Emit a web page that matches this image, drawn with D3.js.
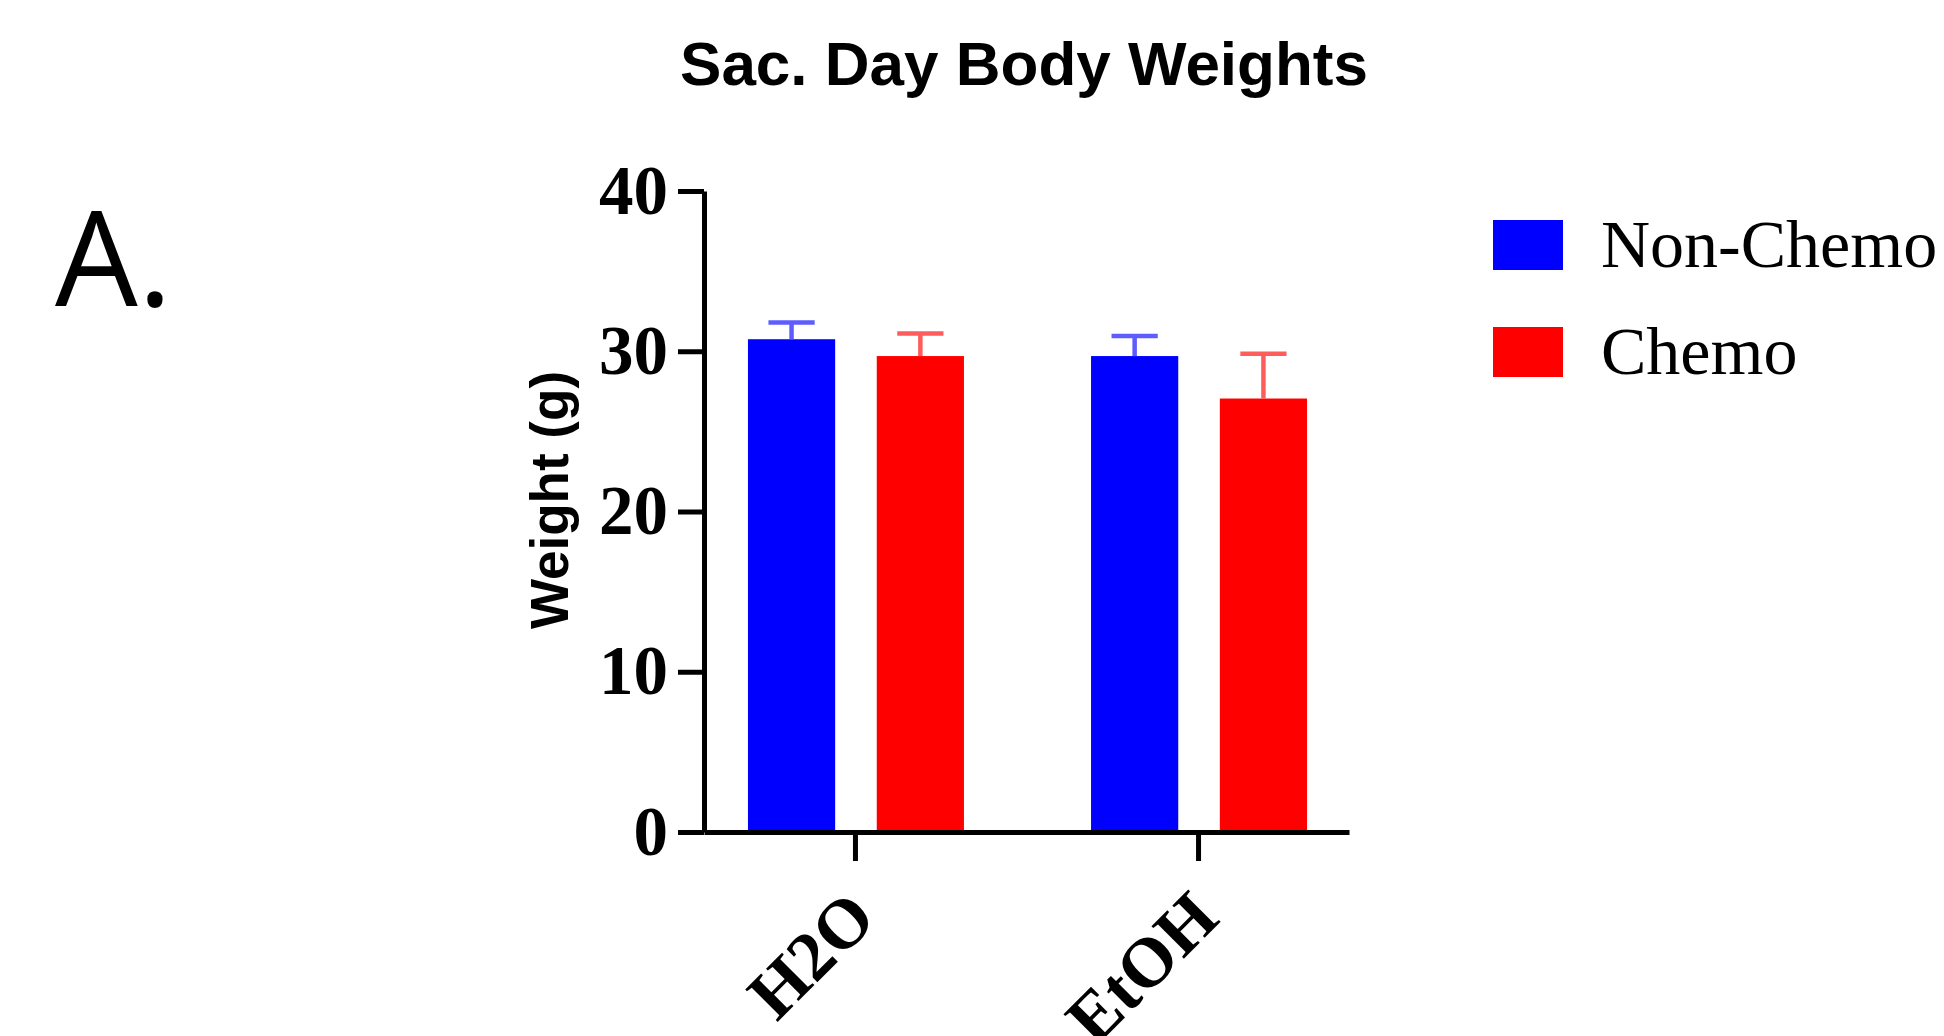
<!DOCTYPE html>
<html>
<head>
<meta charset="utf-8">
<title>Sac. Day Body Weights</title>
<script src="https://cdn.jsdelivr.net/npm/d3@7"></script>
<style>
  html, body { margin: 0; padding: 0; background: #fff; }
  #chart { width: 1944px; height: 1036px; }
</style>
</head>
<body>
<div id="chart"></div>
<script>
// datos (media y error estandar, en gramos)
const groups = ["H2O", "EtOH"];
const series = ["Non-Chemo", "Chemo"];
const nonChemoMean = [30.75, 29.7];
const chemoMean    = [29.7, 27.05];
const nonChemoErr  = [1.05, 1.25];
const chemoErr     = [1.4, 2.8];
const yTicks = [0, 10, 20, 30, 40];

const colors    = { "Non-Chemo": "#0000ff", "Chemo": "#ff0000" };
const errColors = { "Non-Chemo": "#5c5cff", "Chemo": "#ff5c5c" };

// filas para dibujar
const rows = [];
groups.forEach((g, i) => {
  rows.push({ group: g, serie: "Non-Chemo", mean: nonChemoMean[i], err: nonChemoErr[i] });
  rows.push({ group: g, serie: "Chemo",     mean: chemoMean[i],    err: chemoErr[i] });
});

const width = 1944, height = 1036;
const plot = { left: 704, right: 1349, top: 191, bottom: 832 };

const svg = d3.select("#chart")
  .append("svg")
    .attr("width", width)
    .attr("height", height);

// escalas
const x0 = d3.scalePoint()
  .domain(groups)
  .range([plot.left, plot.right])
  .padding(0.44);

const x1 = d3.scaleBand()
  .domain(series)
  .range([-107, 109])
  .paddingInner(0.323)
  .paddingOuter(0);

const y = d3.scaleLinear()
  .domain([0, 40])
  .range([plot.bottom, plot.top]);

// barras
svg.append("g")
  .selectAll("rect")
  .data(rows)
  .join("rect")
    .attr("x", d => x0(d.group) + x1(d.serie))
    .attr("y", d => y(d.mean))
    .attr("width", x1.bandwidth())
    .attr("height", d => y(0) - y(d.mean))
    .attr("fill", d => colors[d.serie]);

// barras de error (solo hacia arriba)
const capW = x1.bandwidth() * 0.53;
const err = svg.append("g")
  .selectAll("g")
  .data(rows)
  .join("g")
    .attr("stroke", d => errColors[d.serie])
    .attr("stroke-width", 4.5);

err.append("line")
  .attr("x1", d => x0(d.group) + x1(d.serie) + x1.bandwidth() / 2)
  .attr("x2", d => x0(d.group) + x1(d.serie) + x1.bandwidth() / 2)
  .attr("y1", d => y(d.mean))
  .attr("y2", d => y(d.mean + d.err));

err.append("line")
  .attr("x1", d => x0(d.group) + x1(d.serie) + x1.bandwidth() / 2 - capW / 2)
  .attr("x2", d => x0(d.group) + x1(d.serie) + x1.bandwidth() / 2 + capW / 2)
  .attr("y1", d => y(d.mean + d.err))
  .attr("y2", d => y(d.mean + d.err));

// eje Y
const yAxis = svg.append("g")
  .attr("transform", `translate(${plot.left}, 0)`)
  .call(d3.axisLeft(y).tickValues(yTicks).tickSize(26).tickSizeOuter(0).tickPadding(10));

yAxis.select(".domain").attr("stroke", "#000").attr("stroke-width", 5);
yAxis.selectAll(".tick line").attr("stroke", "#000").attr("stroke-width", 5);
yAxis.selectAll(".tick text")
  .attr("font-family", "'Liberation Serif', 'Times New Roman', serif")
  .attr("font-weight", "bold")
  .attr("font-size", 69)
  .attr("fill", "#000");

// eje X
const xAxis = svg.append("g")
  .attr("transform", `translate(0, ${plot.bottom})`)
  .call(d3.axisBottom(x0).tickSize(29).tickSizeOuter(0));

xAxis.select(".domain").attr("stroke", "#000").attr("stroke-width", 5);
xAxis.selectAll(".tick line").attr("stroke", "#000").attr("stroke-width", 5);
xAxis.selectAll(".tick text")
  .attr("y", 0)
  .attr("dy", 0)
  .attr("text-anchor", "end")
  .attr("transform", "translate(23, 89) rotate(-45)")
  .attr("font-family", "'Liberation Serif', 'Times New Roman', serif")
  .attr("font-weight", "bold")
  .attr("font-size", 70)
  .attr("fill", "#000");

// titulo del eje Y
svg.append("text")
  .attr("transform", "translate(568, 500) rotate(-90)")
  .attr("text-anchor", "middle")
  .attr("font-family", "'Liberation Sans', Arial, sans-serif")
  .attr("font-weight", "bold")
  .attr("font-size", 53)
  .text("Weight (g)");

// titulo
svg.append("text")
  .attr("x", 1024)
  .attr("y", 85)
  .attr("text-anchor", "middle")
  .attr("font-family", "'Liberation Sans', Arial, sans-serif")
  .attr("font-weight", "bold")
  .attr("font-size", 62)
  .text("Sac. Day Body Weights");

// etiqueta del panel
svg.append("text")
  .attr("x", 55)
  .attr("y", 306)
  .attr("font-family", "'Open Sans', sans-serif")
  .attr("font-size", 131)
  .text("A.");

// leyenda
const legend = svg.append("g")
  .selectAll("g")
  .data(series)
  .join("g")
    .attr("transform", (d, i) => `translate(1493, ${220 + i * 107})`);

legend.append("rect")
  .attr("width", 70)
  .attr("height", 50)
  .attr("fill", d => colors[d]);

legend.append("text")
  .attr("x", 108)
  .attr("y", 47)
  .attr("font-family", "'Liberation Serif', 'Times New Roman', serif")
  .attr("font-size", 68)
  .text(d => d);
</script>
</body>
</html>
